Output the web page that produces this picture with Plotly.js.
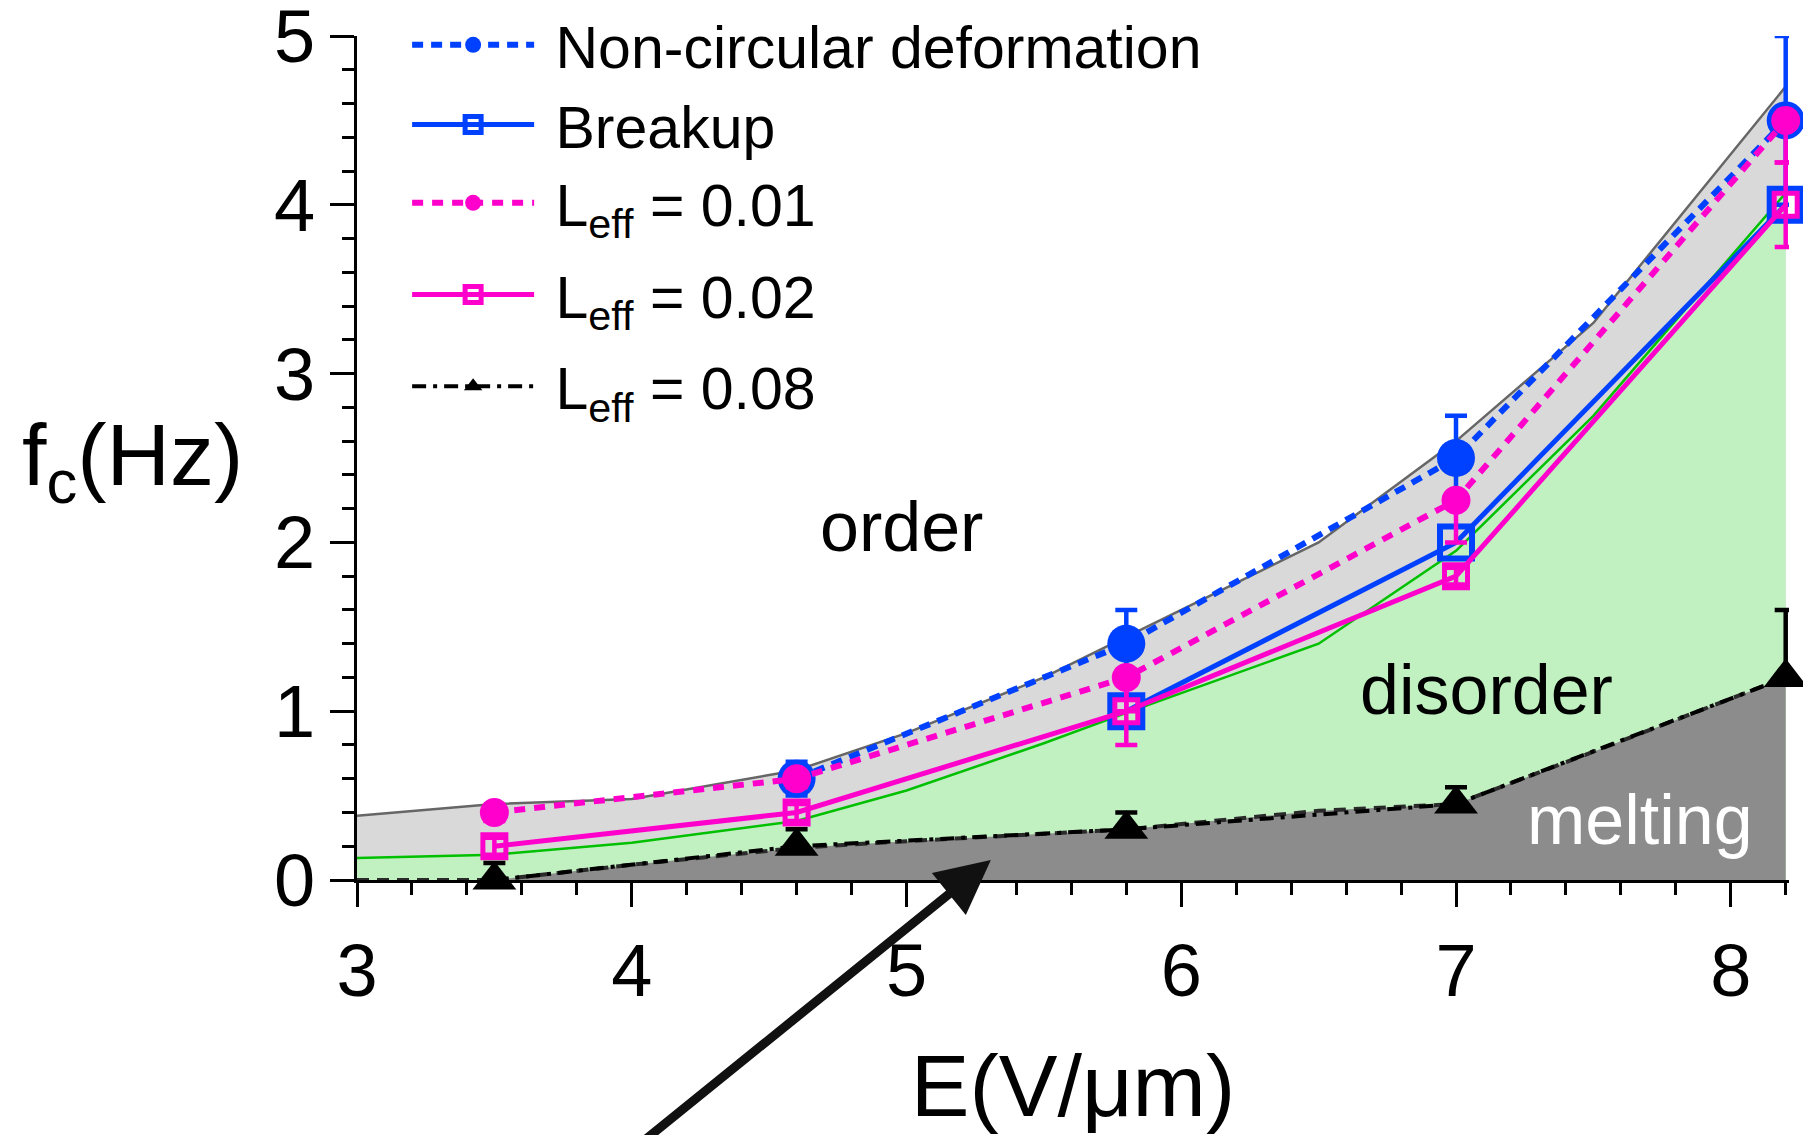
<!DOCTYPE html>
<html>
<head>
<meta charset="utf-8">
<script src="https://cdn.plot.ly/plotly-3.0.1.min.js"></script>
<style>html,body{margin:0;padding:0;background:#fff;}#chart{width:1803px;height:1135px;}</style>
</head>
<body>
<div id="chart"></div>
<script>
// ---- Region boundaries (phase diagram) ----
const gridE = [3, 3.5, 4, 4.6, 5, 5.5, 5.8, 6.5, 7, 7.5, 8.2];
const orderBoundary = [0.38, 0.45, 0.48, 0.65, 0.87, 1.2, 1.44, 2.0, 2.6, 3.3, 4.7];
const disorderBoundary = [0.13, 0.15, 0.22, 0.35, 0.53, 0.81, 0.99, 1.4, 1.95, 2.75, 4.07];
const meltE = [3, 3.5, 4, 4.6, 5, 5.8, 6.5, 7, 7.5, 8.2];
const meltBoundary = [0, 0, 0.09, 0.19, 0.23, 0.3, 0.41, 0.45, 0.76, 1.2];

// ---- Measured series ----
const nonCircE = [4.6, 5.8, 7.0, 8.2];
const nonCircF = [0.6, 1.4, 2.5, 4.5];
const nonCircErr = [0.1, 0.2, 0.25, 0.5];

const breakupE = [5.8, 7.0, 8.2];
const breakupF = [1.0, 2.0, 4.0];

const leffE = [3.5, 4.6, 5.8, 7.0, 8.2];
const leff001F = [0.4, 0.6, 1.2, 2.25, 4.5];
const leff001ErrMinus = [0.05, 0.05, 0.2, 0.25, 0.25];
const leff002F = [0.2, 0.4, 1.0, 1.8, 4.0];
const leff002Err = [0.05, 0.05, 0.2, 0.05, 0.25];
const leff008F = [0, 0.2, 0.3, 0.45, 1.2];
const leff008ErrPlus = [0.1, 0.1, 0.1, 0.1, 0.4];

const seriesNames = ['Non-circular deformation', 'Breakup', 'L<sub>eff</sub> = 0.01', 'L<sub>eff</sub> = 0.02', 'L<sub>eff</sub> = 0.08'];
const regionLabels = ['order', 'disorder', 'melting'];
const xTicks = [3, 4, 5, 6, 7, 8];
const yTicks = [0, 1, 2, 3, 4, 5];

const BLUE = '#0040FF', PINK = '#FF00CC';
const FONT = 'Liberation Sans, Arial, Helvetica, sans-serif';
const NB = '\u00A0';
const zeros = a => a.map(() => 0);

const traces = [
  {x: gridE, y: orderBoundary, type: 'scatter', mode: 'lines', fill: 'tozeroy',
   fillcolor: '#D9D9D9', line: {color: '#666666', width: 2.5}, showlegend: false, hoverinfo: 'skip'},
  {x: gridE, y: disorderBoundary, type: 'scatter', mode: 'lines', fill: 'tozeroy',
   fillcolor: '#C1F1C1', line: {color: '#00C000', width: 2.5}, showlegend: false, hoverinfo: 'skip'},
  {x: meltE, y: meltBoundary, type: 'scatter', mode: 'lines', fill: 'tozeroy',
   fillcolor: '#8C8C8C', line: {color: '#2a2a2a', width: 4, dash: '12px,8px'}, showlegend: false, hoverinfo: 'skip'},

  {name: NB + seriesNames[0], legend: 'legend', legendgroup: 'a', x: nonCircE, y: nonCircF,
   type: 'scatter', mode: 'lines+markers', cliponaxis: false,
   line: {color: BLUE, width: 6, dash: '11px,8px'},
   marker: {symbol: 'circle', size: 38, color: BLUE},
   error_y: {type: 'data', array: nonCircErr, symmetric: true, color: BLUE, thickness: 4.5, width: 11}},
  {name: NB + seriesNames[1], legend: 'legend', legendgroup: 'b', x: breakupE, y: breakupF,
   type: 'scatter', mode: 'lines+markers', cliponaxis: false,
   line: {color: BLUE, width: 5},
   marker: {symbol: 'square-open', size: 32, color: BLUE, line: {width: 6, color: BLUE}}},
  {name: NB + seriesNames[2], legend: 'legend2', legendgroup: 'c', x: leffE, y: leff001F,
   type: 'scatter', mode: 'lines+markers', cliponaxis: false,
   line: {color: PINK, width: 6, dash: '11px,9px'},
   marker: {symbol: 'circle', size: 29, color: PINK},
   error_y: {type: 'data', symmetric: false, array: zeros(leff001ErrMinus), arrayminus: leff001ErrMinus,
             color: PINK, thickness: 4.5, width: 11}},
  {name: NB + seriesNames[3], legend: 'legend2', legendgroup: 'd', x: leffE, y: leff002F,
   type: 'scatter', mode: 'lines+markers', cliponaxis: false,
   line: {color: PINK, width: 5},
   marker: {symbol: 'square-open', size: 23, color: PINK, line: {width: 5, color: PINK}},
   error_y: {type: 'data', array: leff002Err, symmetric: true, color: PINK, thickness: 4.5, width: 11}},
  {name: NB + seriesNames[4], legend: 'legend2', legendgroup: 'e', x: leffE, y: leff008F,
   type: 'scatter', mode: 'lines+markers', cliponaxis: false,
   line: {color: '#000000', width: 4, dash: '14px,7px,4px,7px'},
   marker: {symbol: 'triangle-up', size: 38, color: '#000000'},
   error_y: {type: 'data', symmetric: false, array: leff008ErrPlus, arrayminus: zeros(leff008ErrPlus),
             color: '#000000', thickness: 4.5, width: 11}}
];

const axisCommon = {
  showline: true, linewidth: 3, linecolor: '#000', ticks: 'outside', ticklen: 24, tickwidth: 3,
  tickcolor: '#000', showgrid: false, zeroline: false, ticklabeloverflow: 'allow',
  tickfont: {family: FONT, size: 74, color: '#000'},
  minor: {dtick: 0.2, ticks: 'outside', ticklen: 12, tickwidth: 3, tickcolor: '#000', showgrid: false}
};

const legendCommon = {xanchor: 'left', yanchor: 'top', bgcolor: 'rgba(0,0,0,0)',
  font: {family: FONT, size: 59, color: '#000'}, itemwidth: 122, traceorder: 'grouped'};

const layout = {
  width: 1803, height: 1135,
  margin: {l: 357, r: 14, t: 36, b: 255, pad: 0, autoexpand: false},
  paper_bgcolor: '#fff', plot_bgcolor: '#fff',
  font: {family: FONT, color: '#000'},
  xaxis: Object.assign({}, axisCommon, {
    range: [3, 8.212], tickvals: xTicks, ticktext: xTicks.map(String), automargin: false,
    title: {text: NB + 'E(V/μm)', font: {family: FONT, size: 88, color: '#000'}, standoff: 44}
  }),
  yaxis: Object.assign({}, axisCommon, {
    range: [0, 5], tickvals: yTicks, ticktext: yTicks.map(String), automargin: false
  }),
  showlegend: true,
  legend: Object.assign({}, legendCommon, {x: 0.035, y: 1.0427, tracegroupgap: 0}),
  legend2: Object.assign({}, legendCommon, {x: 0.035, y: 0.8555, tracegroupgap: 12}),
  annotations: [
    {xref: 'paper', yref: 'paper', x: -0.157, y: 0.497, xanchor: 'center', yanchor: 'middle', showarrow: false,
     text: 'f<sub>c</sub>(Hz)', font: {family: FONT, size: 88, color: '#000'}},
    {x: 4.98, y: 2.09, text: regionLabels[0], showarrow: false, font: {family: FONT, size: 70, color: '#000'}},
    {x: 7.11, y: 1.125, text: regionLabels[1], showarrow: false, font: {family: FONT, size: 70, color: '#000'}},
    {x: 7.67, y: 0.355, text: regionLabels[2], showarrow: false, font: {family: FONT, size: 70, color: '#fff'}},
    {x: 5.307, y: 0.118, axref: 'x', ayref: 'y', ax: 3.993, ay: -1.612, text: '', showarrow: true,
     arrowhead: 2, arrowsize: 1.2, arrowwidth: 9, arrowcolor: '#111'}
  ]
};

Plotly.newPlot('chart', traces, layout, {displayModeBar: false, staticPlot: true});
</script>
</body>
</html>
